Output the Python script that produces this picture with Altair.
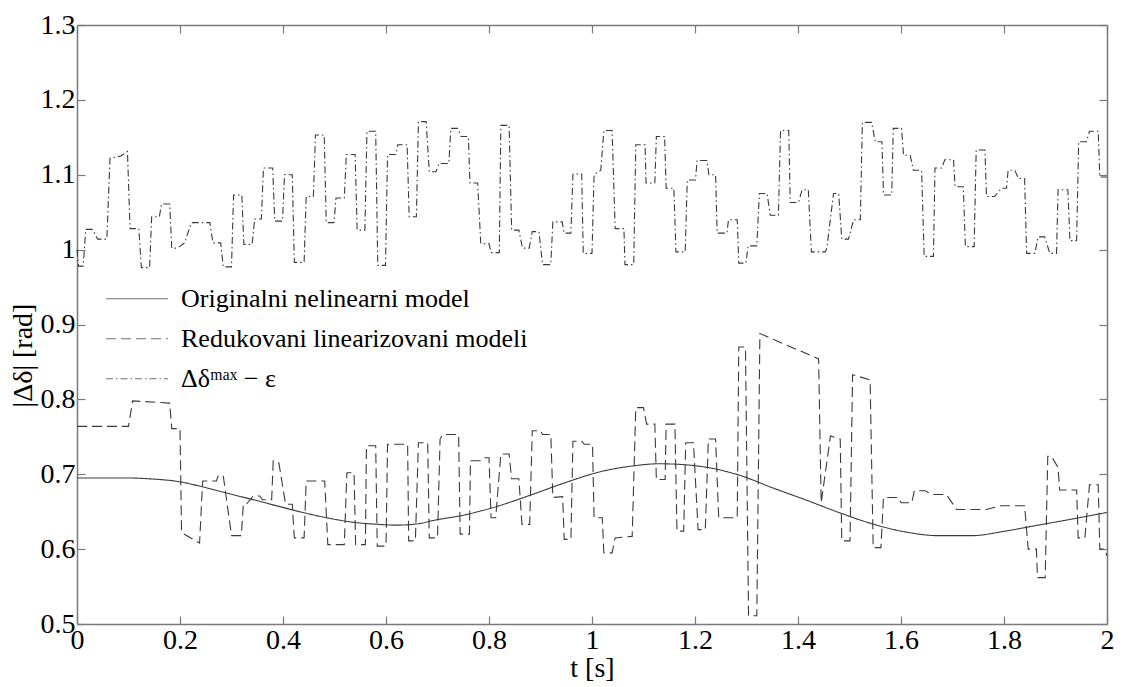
import altair as alt
import pandas as pd

SERIES = ["Originalni nelinearni model", "Redukovani linearizovani modeli", "Δδᵐᵃˣ − ε"]

X_TICKS = [0, 0.2, 0.4, 0.6, 0.8, 1, 1.2, 1.4, 1.6, 1.8, 2]
Y_TICKS = [0.5, 0.6, 0.7, 0.8, 0.9, 1.0, 1.1, 1.2, 1.3]

# original nonlinear model (smooth)
T_ORIG = [0.0, 0.10, 0.138, 0.199, 0.245, 0.29, 0.342, 0.387, 0.438, 0.484, 0.535, 0.587,
          0.62, 0.664, 0.69, 0.755, 0.82, 0.884, 0.949, 1.014, 1.078, 1.13, 1.175, 1.24,
          1.285, 1.35, 1.414, 1.479, 1.543, 1.608, 1.673, 1.737, 1.802, 1.866, 1.931, 2.0]
V_ORIG = [0.695, 0.695, 0.694, 0.690, 0.683, 0.675, 0.666, 0.658, 0.649, 0.642, 0.636, 0.633,
          0.632, 0.634, 0.638, 0.646, 0.658, 0.673, 0.689, 0.703, 0.711, 0.714, 0.713, 0.707,
          0.699, 0.682, 0.666, 0.649, 0.634, 0.623, 0.618, 0.618, 0.624, 0.632, 0.640, 0.649]

# reduced linearized models (dashed)
T_RED = [0.000, 0.100, 0.108, 0.180, 0.184, 0.200, 0.203, 0.238, 0.244, 0.271, 0.274, 0.284,
         0.300, 0.319, 0.323, 0.329, 0.342, 0.355, 0.360, 0.378, 0.381, 0.392, 0.405, 0.418,
         0.422, 0.441, 0.445, 0.481, 0.487, 0.519, 0.524, 0.538, 0.541, 0.560, 0.562, 0.580,
         0.583, 0.600, 0.603, 0.642, 0.644, 0.657, 0.663, 0.681, 0.684, 0.700, 0.705, 0.710,
         0.741, 0.744, 0.762, 0.764, 0.784, 0.790, 0.800, 0.804, 0.813, 0.823, 0.839, 0.844,
         0.858, 0.864, 0.879, 0.884, 0.900, 0.904, 0.920, 0.924, 0.943, 0.946, 0.959, 0.963,
         0.980, 0.985, 1.001, 1.004, 1.020, 1.023, 1.039, 1.045, 1.078, 1.085, 1.100, 1.106,
         1.122, 1.125, 1.142, 1.144, 1.161, 1.165, 1.178, 1.182, 1.197, 1.206, 1.220, 1.226,
         1.240, 1.246, 1.282, 1.285, 1.298, 1.304, 1.320, 1.326, 1.440, 1.445, 1.463, 1.482,
         1.485, 1.501, 1.506, 1.540, 1.546, 1.561, 1.566, 1.595, 1.600, 1.621, 1.626, 1.647,
         1.660, 1.688, 1.708, 1.765, 1.795, 1.840, 1.847, 1.863, 1.865, 1.880, 1.885, 1.892,
         1.905, 1.908, 1.941, 1.944, 1.957, 1.966, 1.983, 1.986, 1.995, 2.000]
V_RED = [0.764, 0.764, 0.798, 0.795, 0.761, 0.761, 0.622, 0.608, 0.691, 0.691, 0.698, 0.698,
         0.618, 0.618, 0.660, 0.660, 0.671, 0.671, 0.666, 0.666, 0.718, 0.715, 0.660, 0.660,
         0.615, 0.615, 0.691, 0.691, 0.606, 0.606, 0.702, 0.702, 0.606, 0.606, 0.738, 0.738,
         0.604, 0.604, 0.740, 0.740, 0.611, 0.611, 0.742, 0.742, 0.615, 0.615, 0.747, 0.753,
         0.753, 0.620, 0.620, 0.718, 0.718, 0.722, 0.722, 0.642, 0.642, 0.727, 0.727, 0.694,
         0.694, 0.633, 0.633, 0.758, 0.758, 0.753, 0.753, 0.669, 0.670, 0.613, 0.613, 0.744,
         0.744, 0.740, 0.740, 0.642, 0.642, 0.595, 0.595, 0.615, 0.617, 0.789, 0.789, 0.767,
         0.767, 0.693, 0.693, 0.767, 0.767, 0.624, 0.624, 0.742, 0.742, 0.626, 0.626, 0.747,
         0.747, 0.642, 0.642, 0.870, 0.870, 0.511, 0.511, 0.888, 0.854, 0.662, 0.751, 0.747,
         0.611, 0.611, 0.833, 0.826, 0.602, 0.602, 0.669, 0.669, 0.662, 0.662, 0.678, 0.678,
         0.673, 0.673, 0.653, 0.653, 0.658, 0.658, 0.600, 0.600, 0.562, 0.562, 0.724, 0.724,
         0.709, 0.679, 0.679, 0.615, 0.615, 0.686, 0.686, 0.600, 0.600, 0.591]

# delta_max - epsilon (dash-dot)
T_MAX = [0.000, 0.003, 0.012, 0.017, 0.030, 0.040, 0.058, 0.064, 0.085, 0.098, 0.103, 0.120,
         0.125, 0.141, 0.145, 0.160, 0.164, 0.180, 0.184, 0.195, 0.209, 0.222, 0.258, 0.264,
         0.279, 0.284, 0.300, 0.304, 0.320, 0.324, 0.340, 0.345, 0.358, 0.362, 0.380, 0.384,
         0.399, 0.403, 0.418, 0.422, 0.441, 0.445, 0.459, 0.463, 0.480, 0.484, 0.499, 0.503,
         0.519, 0.523, 0.540, 0.544, 0.559, 0.563, 0.580, 0.584, 0.599, 0.603, 0.619, 0.623,
         0.641, 0.645, 0.659, 0.663, 0.678, 0.684, 0.697, 0.703, 0.722, 0.726, 0.739, 0.746,
         0.760, 0.763, 0.778, 0.784, 0.800, 0.804, 0.820, 0.823, 0.839, 0.844, 0.858, 0.865,
         0.878, 0.884, 0.897, 0.904, 0.920, 0.924, 0.942, 0.946, 0.959, 0.963, 0.980, 0.983,
         1.000, 1.004, 1.017, 1.023, 1.039, 1.045, 1.062, 1.064, 1.081, 1.085, 1.103, 1.105,
         1.122, 1.125, 1.141, 1.144, 1.159, 1.163, 1.181, 1.185, 1.201, 1.204, 1.223, 1.227,
         1.240, 1.243, 1.262, 1.265, 1.282, 1.285, 1.299, 1.303, 1.320, 1.325, 1.340, 1.346,
         1.362, 1.366, 1.382, 1.385, 1.401, 1.408, 1.420, 1.426, 1.453, 1.456, 1.469, 1.479,
         1.485, 1.498, 1.508, 1.521, 1.525, 1.543, 1.550, 1.563, 1.566, 1.582, 1.585, 1.601,
         1.605, 1.618, 1.624, 1.640, 1.645, 1.663, 1.666, 1.679, 1.685, 1.702, 1.705, 1.721,
         1.725, 1.742, 1.746, 1.763, 1.766, 1.782, 1.795, 1.805, 1.808, 1.821, 1.828, 1.840,
         1.844, 1.860, 1.866, 1.879, 1.889, 1.902, 1.905, 1.924, 1.928, 1.941, 1.945, 1.960,
         1.966, 1.983, 1.986, 2.000]
V_MAX = [1.000, 0.978, 0.978, 1.027, 1.027, 1.014, 1.014, 1.122, 1.125, 1.131, 1.028, 1.028,
         0.976, 0.976, 1.044, 1.044, 1.061, 1.061, 1.002, 1.002, 1.009, 1.036, 1.036, 1.009,
         1.009, 0.977, 0.977, 1.073, 1.073, 1.007, 1.007, 1.041, 1.041, 1.109, 1.109, 1.038,
         1.038, 1.100, 1.100, 0.983, 0.983, 1.071, 1.071, 1.153, 1.153, 1.036, 1.036, 1.069,
         1.069, 1.127, 1.127, 1.026, 1.026, 1.158, 1.158, 0.979, 0.979, 1.127, 1.127, 1.140,
         1.140, 1.044, 1.044, 1.171, 1.171, 1.104, 1.104, 1.115, 1.115, 1.162, 1.162, 1.151,
         1.151, 1.089, 1.089, 1.008, 1.008, 0.996, 0.996, 1.166, 1.166, 1.026, 1.026, 1.002,
         1.002, 1.024, 1.024, 0.980, 0.980, 1.037, 1.037, 1.022, 1.022, 1.101, 1.101, 0.995,
         0.995, 1.100, 1.106, 1.159, 1.159, 1.028, 1.028, 0.980, 0.980, 1.140, 1.140, 1.089,
         1.089, 1.151, 1.151, 1.082, 1.082, 0.997, 0.997, 1.093, 1.093, 1.119, 1.119, 1.100,
         1.100, 1.022, 1.022, 1.040, 1.040, 0.982, 0.982, 1.005, 1.005, 1.075, 1.075, 1.046,
         1.046, 1.159, 1.159, 1.063, 1.063, 1.080, 1.080, 0.997, 0.997, 1.002, 1.075, 1.075,
         1.014, 1.014, 1.040, 1.040, 1.170, 1.170, 1.144, 1.144, 1.073, 1.073, 1.162, 1.162,
         1.126, 1.126, 1.106, 1.106, 0.991, 0.991, 1.109, 1.109, 1.120, 1.120, 1.084, 1.084,
         1.004, 1.004, 1.133, 1.133, 1.071, 1.071, 1.082, 1.082, 1.106, 1.106, 1.095, 1.095,
         0.995, 0.995, 1.017, 1.017, 0.995, 0.995, 1.080, 1.080, 1.012, 1.012, 1.144, 1.144,
         1.158, 1.158, 1.097, 1.097]

rows = []
for name, ts, vs in zip(SERIES, [T_ORIG, T_RED, T_MAX], [V_ORIG, V_RED, V_MAX]):
    for i, (t, v) in enumerate(zip(ts, vs)):
        rows.append({"series": name, "t": t, "v": v, "order": i})
df = pd.DataFrame(rows)

W, H = 1030, 599
FONT = "Liberation Serif, Times New Roman, Times, serif"
FS = 28
AXC = "#7a7a7a"
LINE = "#3a3a3a"

xscale = alt.Scale(domain=[0, 2], nice=False, zero=False)
yscale = alt.Scale(domain=[0.5, 1.3], nice=False, zero=False)

dash = alt.StrokeDash(
    "series:N",
    scale=alt.Scale(domain=SERIES, range=[[1, 0], [10, 5], [7, 3, 1.5, 3]]),
    legend=alt.Legend(
        title=None, orient="none", legendX=28, legendY=254,
        symbolType="stroke", symbolSize=3844, symbolStrokeWidth=1.2,
        symbolStrokeColor="#707070", clipHeight=39.5,
        labelFont=FONT, labelFontSize=26, labelColor="black",
        labelOffset=12, rowPadding=0, padding=0, labelLimit=700,
    ),
)

def layer(idx, xaxis, yaxis, interp="linear"):
    return (
        alt.Chart(df)
        .transform_filter(alt.datum.series == SERIES[idx])
        .mark_line(color=LINE, strokeWidth=1.1, interpolate=interp)
        .encode(
            x=alt.X("t:Q", scale=xscale, axis=xaxis),
            y=alt.Y("v:Q", scale=yscale, axis=yaxis),
            strokeDash=dash,
            order="order:Q",
        )
    )

common = dict(grid=False, domainColor=AXC, tickColor=AXC, domainWidth=1.5, tickWidth=1.2)

ax_bottom = alt.Axis(
    orient="bottom", values=X_TICKS, format="~g", ticks=False, tickSize=0,
    labelFont=FONT, labelFontSize=FS, labelColor="black", labelPadding=2,
    labelOverlap=False, labelFlush=False,
    title="t [s]", titleFont=FONT, titleFontSize=FS, titleFontWeight="normal",
    titleColor="black", titleX=W / 2, titleY=44, titleBaseline="middle", **common,
)
ax_left = alt.Axis(
    orient="left", values=Y_TICKS, format="~g", ticks=False, tickSize=0,
    labelFont=FONT, labelFontSize=FS, labelColor="black", labelPadding=2,
    labelOverlap=False, labelFlush=False, labelBaseline="middle",
    title="|Δδ| [rad]", titleFont=FONT, titleFontSize=FS, titleFontWeight="normal",
    titleColor="black", titleX=-54, titleY=330, titleBaseline="middle",
    titleAlign="center", titleAngle=270, **common,
)
ax_in_bottom = alt.Axis(orient="top", offset=-H, values=X_TICKS, labels=False,
                        domain=False, tickSize=8, title=None, **common)
ax_in_left = alt.Axis(orient="right", offset=-W, values=Y_TICKS, labels=False,
                      domain=False, tickSize=8, title=None, **common)
ax_in_top = alt.Axis(orient="bottom", offset=-H, values=X_TICKS, labels=False,
                     domain=True, tickSize=8, title=None, **common)
ax_in_right = alt.Axis(orient="left", offset=-W, values=Y_TICKS, labels=False,
                       domain=True, tickSize=8, title=None, **common)

chart = (
    alt.layer(
        layer(0, ax_bottom, ax_left, "monotone"),
        layer(1, ax_in_bottom, ax_in_left),
        layer(2, ax_in_top, ax_in_right),
    )
    .resolve_axis(x="independent", y="independent")
    .properties(
        width=W, height=H,
        autosize=alt.AutoSizeParams(type="none"),
        padding={"left": 69, "top": 17, "right": 7, "bottom": 60},
        background="white",
    )
    .configure_view(stroke=None)
)

chart.save("out.html", embed_options={"renderer": "svg", "actions": False})
